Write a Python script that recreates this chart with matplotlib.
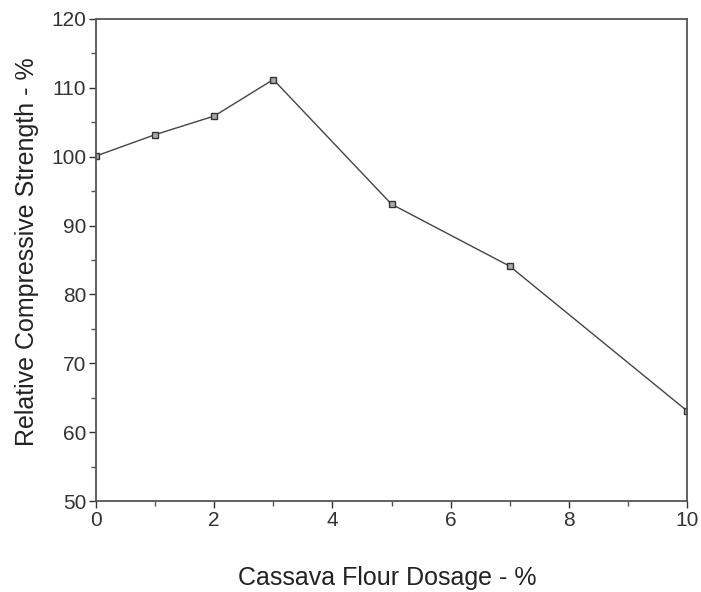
import matplotlib.pyplot as plt
from matplotlib.ticker import MultipleLocator

plt.rcParams['font.family'] = ['Liberation Sans', 'DejaVu Sans']

dosage = [0, 1, 2, 3, 5, 7, 10]
strength = [100.1, 103.2, 105.9, 111.2, 93.1, 84.1, 63.1]

fig = plt.figure(figsize=(7.01, 5.92), dpi=100)
ax = fig.add_axes([0.137, 0.1537, 0.843, 0.8143])

ax.plot(dosage, strength, color='#444444', lw=1.0, marker='s', ms=4.5,
        mfc='#aaaaaa', mec='#333333', mew=1.0)

ax.set_xlim(0, 10)
ax.set_ylim(50, 120)
ax.xaxis.set_major_locator(MultipleLocator(2))
ax.xaxis.set_minor_locator(MultipleLocator(1))
ax.yaxis.set_major_locator(MultipleLocator(10))
ax.yaxis.set_minor_locator(MultipleLocator(5))
ax.tick_params(which='major', length=5, width=1, labelsize=15, colors='#333333', pad=2)
ax.tick_params(which='minor', length=3.5, width=1, colors='#555555')
for s in ax.spines.values():
    s.set_color('#555555')
    s.set_linewidth(1.3)

ax.set_xlabel("Cassava Flour Dosage - %", fontsize=18, color='#222222', va='center')
ax.set_ylabel("Relative Compressive Strength - %", fontsize=18, color='#222222', va='center')
ax.xaxis.set_label_coords(0.492, -0.160)
ax.yaxis.set_label_coords(-0.117, 0.517)

plt.savefig("out.png", dpi=100)
